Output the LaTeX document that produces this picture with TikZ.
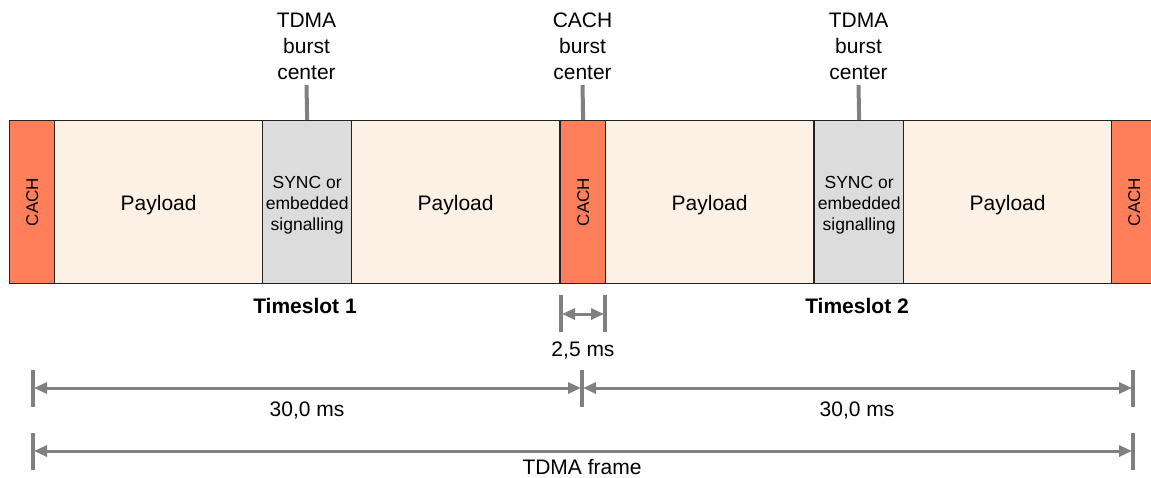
\documentclass[tikz,border=0pt]{standalone}
\usepackage{fontspec}
\setmainfont{Liberation Sans}
\usetikzlibrary{arrows.meta}
\definecolor{cachc}{HTML}{FF7F5A}
\definecolor{payc}{HTML}{FDF0E4}
\definecolor{syncc}{HTML}{DCDCDC}
\definecolor{edgec}{HTML}{222222}
\definecolor{greyc}{HTML}{808080}
\newcommand{\lowertext}[1]{\raisebox{-3pt}[\height][\depth]{#1}}
\begin{document}
\begin{tikzpicture}[x=1pt,y=-1pt,
  seg/.style={draw=edgec,line width=1.3pt,minimum height=163pt,inner sep=0pt,anchor=north west,align=center},
  cachbox/.style={seg,fill=cachc,minimum width=45pt,font=\fontsize{17}{20}\selectfont},
  paybox/.style={seg,fill=payc,minimum width=208pt,font=\fontsize{21}{25}\selectfont},
  syncbox/.style={seg,fill=syncc,minimum width=89pt,font=\fontsize{17.5}{21}\selectfont},
  toplbl/.style={align=center,inner sep=0pt,font=\fontsize{21}{26}\selectfont},
  dimlbl/.style={inner sep=0pt,font=\fontsize{21}{25}\selectfont},
  tslbl/.style={inner sep=0pt,font=\bfseries\fontsize{21}{25}\selectfont},
  tickline/.style={draw=greyc,line width=4pt},
  dimarrow/.style={draw=greyc,line width=3pt,{Triangle[length=13pt,width=11pt]}-{Triangle[length=13pt,width=11pt]},shorten <=-1pt,shorten >=-1pt}
]
\useasboundingbox (0,0) rectangle (1151,477);
% boxes
\node[cachbox] (c1) at (9,120) {\rotatebox{90}{CACH}};
\node[paybox] (p1) at (54,120) {\lowertext{Payload}};
\node[syncbox] (s1) at (262,120) {\lowertext{SYNC or}\\\lowertext{embedded}\\\lowertext{signalling}};
\node[paybox] (p2) at (351,120) {\lowertext{Payload}};
\node[cachbox] (c2) at (560,120) {\rotatebox{90}{CACH}};
\node[paybox] (p3) at (605,120) {\lowertext{Payload}};
\node[syncbox] (s2) at (814,120) {\lowertext{SYNC or}\\\lowertext{embedded}\\\lowertext{signalling}};
\node[paybox] (p4) at (903,120) {\lowertext{Payload}};
\node[cachbox] (c3) at (1111,120) {\rotatebox{90}{CACH}};
% top labels
\node[toplbl,anchor=south] (l1) at (306.5,80) {TDMA\\burst\\center};
\node[toplbl,anchor=south] (l2) at (582.5,80) {CACH\\burst\\center};
\node[toplbl,anchor=south] (l3) at (858.5,80) {TDMA\\burst\\center};
\draw[tickline] ([yshift=-5pt]l1.south) -- (s1.north);
\draw[tickline] ([yshift=-5pt]l2.south) -- (c2.north);
\draw[tickline] ([yshift=-5pt]l3.south) -- (s2.north);
% timeslot labels
\node[tslbl] (ts1) at (305,306) {Timeslot 1};
\node[tslbl] (ts2) at (857,306) {Timeslot 2};
% 2,5 ms
\coordinate (a1t) at (561,295); \coordinate (a1b) at (561,332);
\coordinate (a2t) at (605,295); \coordinate (a2b) at (605,332);
\coordinate (a1m) at (561,314); \coordinate (a2m) at (605,314);
\draw[tickline] (a1t) -- (a1b);
\draw[tickline] (a2t) -- (a2b);
\draw[dimarrow] ([xshift=2pt]a1m) -- ([xshift=-2pt]a2m);
\node[dimlbl] (d25) at (583,351) {2,5 ms};
% 30,0 ms
\coordinate (b1t) at (33,370); \coordinate (b1b) at (33,407);
\coordinate (b2t) at (582,370); \coordinate (b2b) at (582,407);
\coordinate (b3t) at (1133,370); \coordinate (b3b) at (1133,407);
\coordinate (b1m) at (33,388); \coordinate (b2m) at (582,388); \coordinate (b3m) at (1133,388);
\draw[tickline] (b1t) -- (b1b);
\draw[tickline] (b2t) -- (b2b);
\draw[tickline] (b3t) -- (b3b);
\draw[dimarrow] ([xshift=2pt]b1m) -- ([xshift=-2pt]b2m);
\draw[dimarrow] ([xshift=2pt]b2m) -- ([xshift=-2pt]b3m);
\node[dimlbl] (d30a) at (307,411) {30,0 ms};
\node[dimlbl] (d30b) at (857,411) {30,0 ms};
% TDMA frame
\coordinate (f1t) at (33,433); \coordinate (f1b) at (33,470);
\coordinate (f2t) at (1133,433); \coordinate (f2b) at (1133,470);
\coordinate (f1m) at (33,451); \coordinate (f2m) at (1133,451);
\draw[tickline] (f1t) -- (f1b);
\draw[tickline] (f2t) -- (f2b);
\draw[dimarrow] ([xshift=2pt]f1m) -- ([xshift=-2pt]f2m);
\node[dimlbl] (tf) at (582,467) {TDMA frame};
\end{tikzpicture}
\end{document}
